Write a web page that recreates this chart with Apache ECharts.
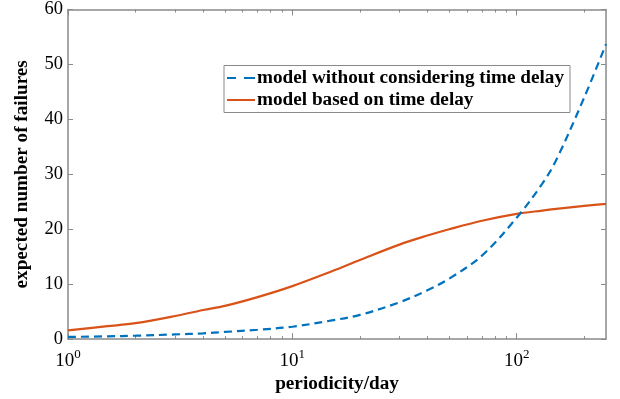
<!DOCTYPE html>
<html>
<head>
<meta charset="utf-8">
<script src="https://cdn.jsdelivr.net/npm/echarts@6/dist/echarts.min.js"></script>
<style>
html,body{margin:0;padding:0;background:#fff;}
#chart{width:620px;height:399px;}
</style>
</head>
<body>
<div id="chart"></div>
<script>
const periodX = [1, 1.5, 2, 3, 4, 5, 7, 10, 15, 20, 30, 40, 50, 70, 100, 130, 150, 200, 250];
const withoutDelay = [0.4, 0.5, 0.62, 0.85, 1.05, 1.3, 1.7, 2.25, 3.4, 4.4, 6.7, 8.9, 11.0, 15.2, 22.1, 28.3, 32.6, 44.0, 53.7];
const basedOnDelay = [1.6, 2.35, 2.9, 4.2, 5.3, 6.05, 7.65, 9.65, 12.35, 14.4, 17.2, 18.85, 20.0, 21.55, 22.8, 23.4, 23.7, 24.25, 24.6];
const seriesNames = ['model without considering time delay', 'model based on time delay'];
const xMajorTicks = [1, 10, 100];
const xMinorTicks = [2,3,4,5,6,7,8,9,20,30,40,50,60,70,80,90,200];
const yTicks = [0, 10, 20, 30, 40, 50, 60];

const axisColor = '#8a8a8a';
const serif = '"Liberation Serif","Times New Roman",serif';

function pairs(xs, ys){ return xs.map((x,i)=>[x, ys[i]]); }

const baseX = {type:'log', logBase:10, min:1, max:250, splitLine:{show:false}, minorTick:{show:false}};

const chart = echarts.init(document.getElementById('chart'), null, {renderer:'canvas'});
chart.setOption({
  animation:false,
  backgroundColor:'#fff',
  grid:{left:68, right:14, top:9.5, bottom:56.5, containLabel:false},
  legend:{
    orient:'vertical', left:224, top:65.5,
    backgroundColor:'#fff', borderColor:'#8a8a8a', borderWidth:1,
    padding:[3,6,3,3], itemGap:3, itemWidth:28, itemHeight:2.2,
    textStyle:{fontFamily:serif, fontWeight:'bold', fontSize:19.2, color:'#000', padding:[0,0,0,-3]},
    data:[
      {name:seriesNames[0], icon:'path://M0,0H9V2H0Z M17,0H28V2H17Z'},
      {name:seriesNames[1], icon:'path://M0,0H28V2H0Z'}
    ]
  },
  xAxis:[
    Object.assign({}, baseX, {
      position:'bottom',
      name:'periodicity/day', nameLocation:'middle', nameGap:31,
      nameTextStyle:{fontFamily:serif, fontWeight:'bold', fontSize:19.2, color:'#000'},
      axisLine:{show:true, onZero:false, lineStyle:{color:axisColor, width:1.5}},
      axisTick:{show:true, inside:true, length:6, customValues:xMajorTicks, lineStyle:{color:axisColor}},
      axisLabel:{show:true, customValues:xMajorTicks, margin:9, color:'#000',
        formatter:function(v){ return '{b|10}{s|' + Math.round(Math.log10(v)) + '}'; },
        rich:{b:{fontFamily:serif, fontSize:19, color:'#000', lineHeight:22, verticalAlign:'bottom'},
              s:{fontFamily:serif, fontSize:13, color:'#000', lineHeight:22, verticalAlign:'top'}}}
    }),
    Object.assign({}, baseX, {
      position:'bottom',
      axisLine:{show:false, onZero:false},
      axisTick:{show:true, inside:true, length:3, customValues:xMinorTicks, lineStyle:{color:axisColor}},
      axisLabel:{show:false}
    }),
    Object.assign({}, baseX, {
      position:'top',
      axisLine:{show:true, onZero:false, lineStyle:{color:axisColor, width:1.5}},
      axisTick:{show:true, inside:true, length:6, customValues:xMajorTicks, lineStyle:{color:axisColor}},
      axisLabel:{show:false}
    }),
    Object.assign({}, baseX, {
      position:'top',
      axisLine:{show:false, onZero:false},
      axisTick:{show:true, inside:true, length:3, customValues:xMinorTicks, lineStyle:{color:axisColor}},
      axisLabel:{show:false}
    })
  ],
  yAxis:[
    {type:'value', position:'left', min:0, max:60, interval:10,
      name:'expected number of failures', nameLocation:'middle', nameGap:36, nameRotate:90,
      nameTextStyle:{fontFamily:serif, fontWeight:'bold', fontSize:19.2, color:'#000'},
      splitLine:{show:false},
      axisLine:{show:true, onZero:false, lineStyle:{color:axisColor, width:1.5}},
      axisTick:{show:true, inside:true, length:5, lineStyle:{color:axisColor}},
      axisLabel:{show:true, margin:5, fontFamily:serif, fontSize:18.5, color:'#000',
        customValues:yTicks}
    },
    {type:'value', position:'right', min:0, max:60, interval:10,
      splitLine:{show:false},
      axisLine:{show:true, onZero:false, lineStyle:{color:axisColor, width:1.5}},
      axisTick:{show:true, inside:true, length:5, lineStyle:{color:axisColor}},
      axisLabel:{show:false}
    }
  ],
  series:[
    {name:seriesNames[0], type:'line', xAxisIndex:0, yAxisIndex:0, showSymbol:false, symbol:'none', smooth:0.35,
      data:pairs(periodX, withoutDelay),
      lineStyle:{color:'#0072BD', width:2.2, type:[8,5]}, itemStyle:{color:'#0072BD'}, z:3},
    {name:seriesNames[1], type:'line', xAxisIndex:0, yAxisIndex:0, showSymbol:false, symbol:'none', smooth:0.35,
      data:pairs(periodX, basedOnDelay),
      lineStyle:{color:'#D95319', width:2.2, type:'solid'}, itemStyle:{color:'#D95319'}, z:2}
  ]
});
</script>
</body>
</html>
